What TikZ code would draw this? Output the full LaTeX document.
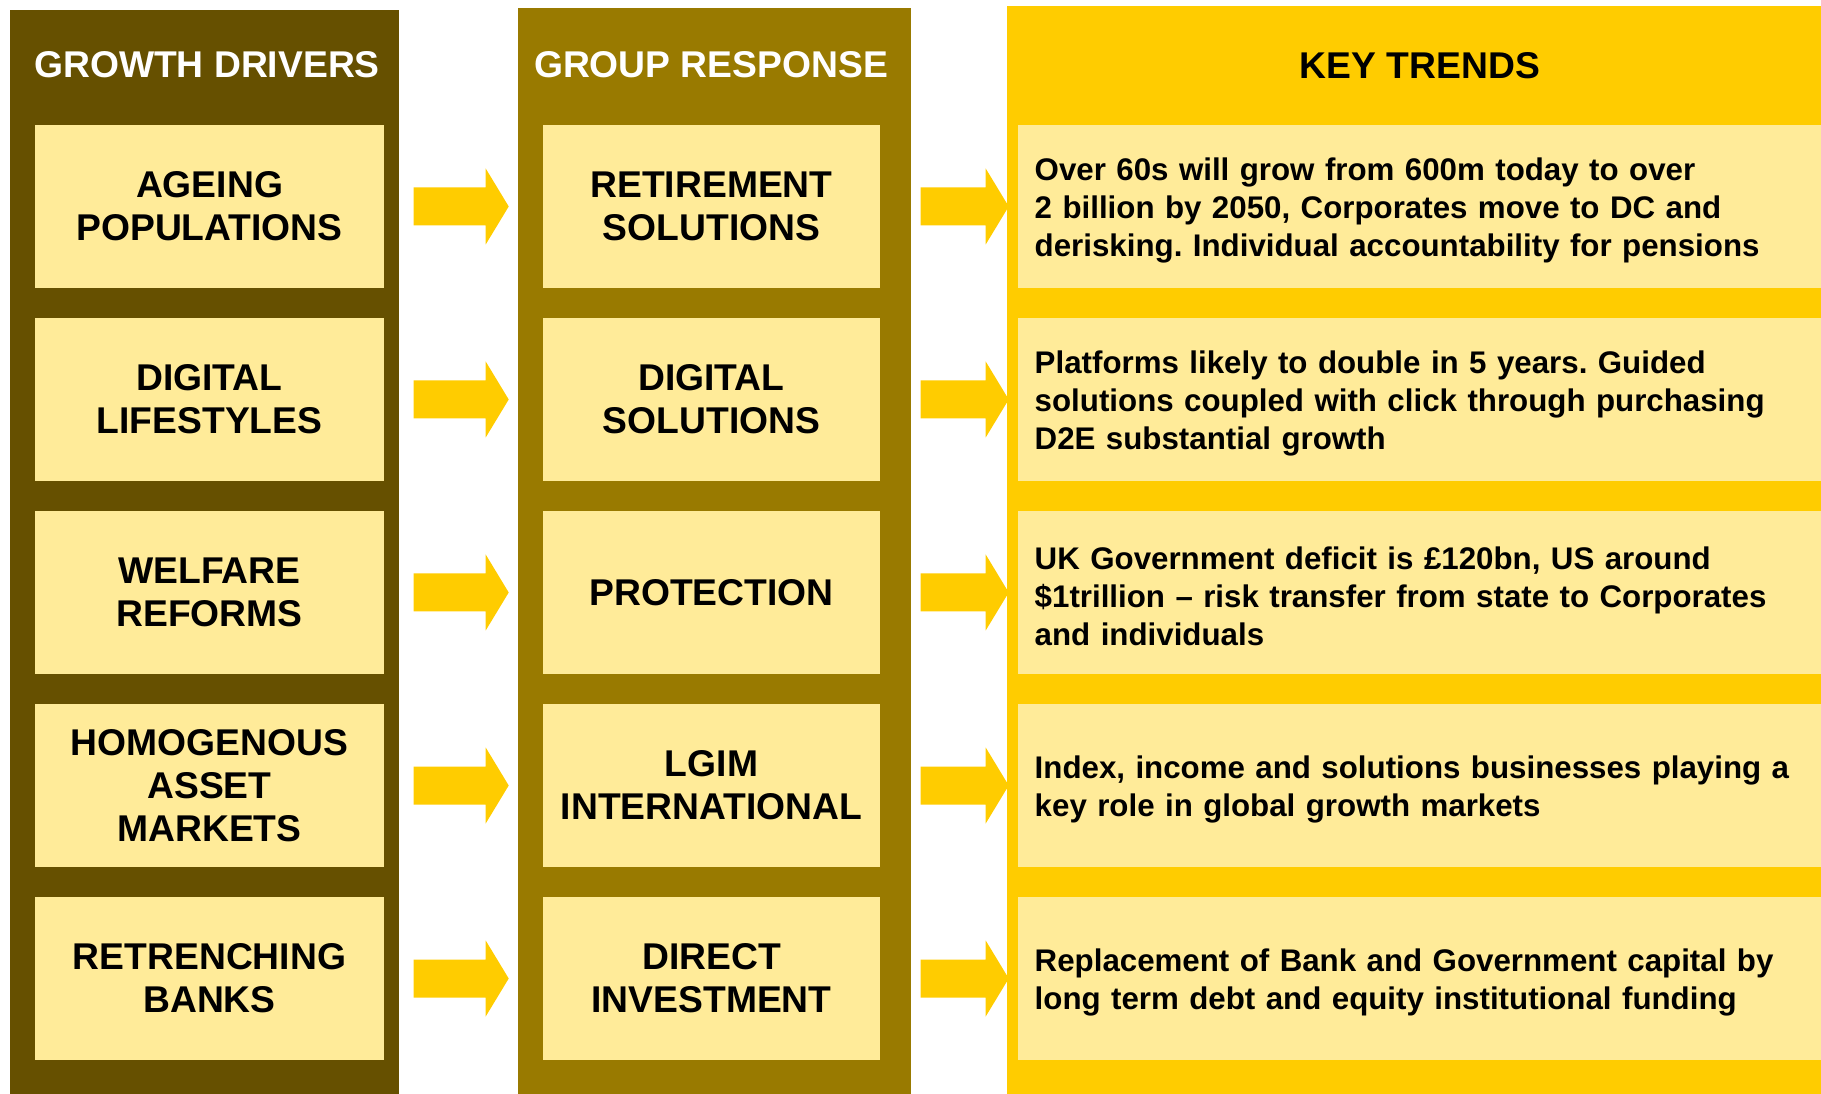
\documentclass[tikz,border=0pt]{standalone}
\usepackage{fontspec}
\setmainfont{Liberation Sans}
\usetikzlibrary{calc}

\definecolor{drivercol}{RGB}{102,80,0}
\definecolor{responsecol}{RGB}{153,122,0}
\definecolor{trendcol}{RGB}{255,204,0}
\definecolor{cellcol}{RGB}{255,235,153}

\tikzset{
  headtext/.style={font=\bfseries\fontsize{10.6}{12.3}\selectfont},
  drivercell/.style={headtext, fill=cellcol, align=center, inner sep=0pt,
    minimum width=34.9mm, minimum height=16.3mm},
  responsecell/.style={drivercell, minimum width=33.7mm},
  trendcell/.style={font=\bfseries\fontsize{8.9}{10.8}\selectfont\frenchspacing,
    fill=cellcol, anchor=west, align=left, text width=79mm, inner xsep=1.7mm,
    inner ysep=0pt, minimum height=16.3mm,
    execute at end node={\par\vspace*{-0.8mm}}},
}

\begin{document}
\begin{tikzpicture}[x=0.1mm,y=-0.1mm]
  \useasboundingbox[fill=white] (0,0) rectangle (1821,1094);

  % column panels
  \fill[drivercol] (10,10) rectangle (399,1094);
  \fill[responsecol] (518,8) rectangle (911,1094);
  \fill[trendcol] (1007,6) rectangle (1821,1094);

  % titles
  \node[headtext, white] (gd) at (207,65) {GROWTH DRIVERS};
  \node[headtext, white] (gr) at (711,65) {GROUP RESPONSE};
  \node[headtext] (kt) at (1420,66) {KEY TRENDS};

  % growth drivers
  \node[drivercell] (d1) at (209.5,206.5) {AGEING\\POPULATIONS};
  \node[drivercell] (d2) at (209.5,399.5) {DIGITAL\\LIFESTYLES};
  \node[drivercell] (d3) at (209.5,592.5) {WELFARE\\REFORMS};
  \node[drivercell] (d4) at (209.5,785.5) {HOMOGENOUS\\ASSET\\MARKETS};
  \node[drivercell] (d5) at (209.5,978.5) {RETRENCHING\\BANKS};

  % group response
  \node[responsecell] (r1) at (711.5,206.5) {RETIREMENT\\SOLUTIONS};
  \node[responsecell] (r2) at (711.5,399.5) {DIGITAL\\SOLUTIONS};
  \node[responsecell] (r3) at (711.5,592.5) {PROTECTION};
  \node[responsecell] (r4) at (711.5,785.5) {LGIM\\INTERNATIONAL};
  \node[responsecell] (r5) at (711.5,978.5) {DIRECT\\INVESTMENT};

  % key trends (cells run off the right edge)
  \node[trendcell] (t1) at (1017,206.5) {Over 60s will grow from 600m today to over\\2 billion by 2050, Corporates move to DC and\\derisking. Individual accountability for pensions};
  \node[trendcell] (t2) at (1017,399.5) {Platforms likely to double in 5 years. Guided\\solutions coupled with click through purchasing\\D2E substantial growth};
  \node[trendcell] (t3) at (1017,592.5) {UK Government deficit is £120bn, US around\\\$1trillion – risk transfer from state to Corporates\\and individuals};
  \node[trendcell] (t4) at (1017,785.5) {Index, income and solutions businesses playing a\\key role in global growth markets};
  \node[trendcell] (t5) at (1017,978.5) {Replacement of Bank and Government capital by\\long term debt and equity institutional funding};

  % block arrows
  \foreach \i in {1,...,5} {
    \fill[trendcol] ($(d\i.east)+(29,0)$) ++(0,-19) -- ++(72,0) -- ++(0,-19)
      -- ++(23,38) -- ++(-23,38) -- ++(0,-19) -- ++(-72,0) -- cycle;
    \fill[trendcol] ($(r\i.east)+(40,0)$) ++(0,-19) -- ++(65,0) -- ++(0,-19)
      -- ++(23,38) -- ++(-23,38) -- ++(0,-19) -- ++(-65,0) -- cycle;
  }
\end{tikzpicture}
\end{document}
